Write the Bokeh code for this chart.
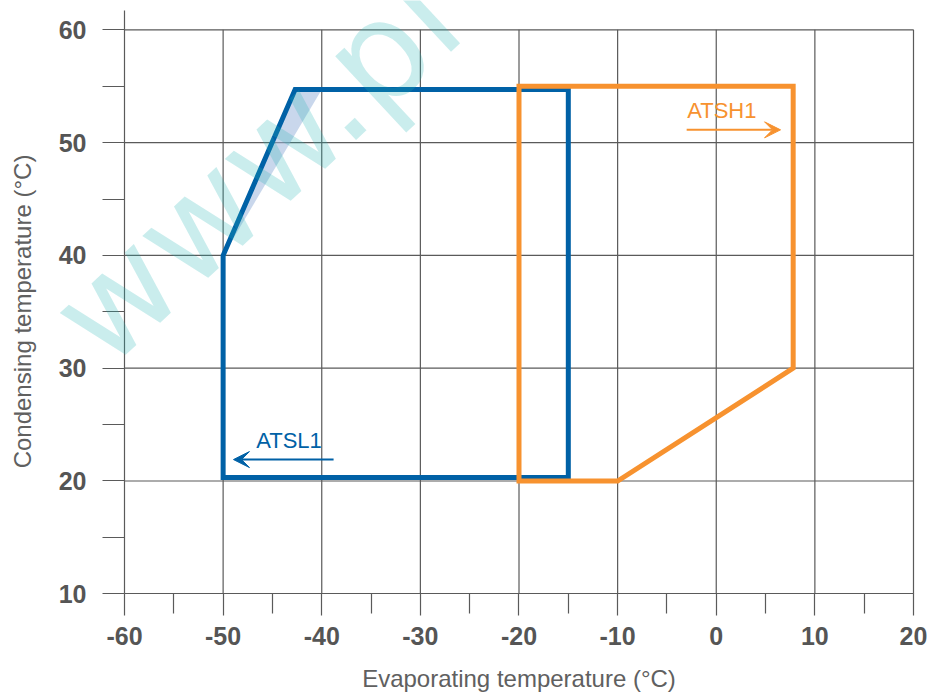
from bokeh.plotting import figure
from bokeh.models import Range1d, FixedTicker, Label, Arrow, VeeHead
from bokeh.embed import file_html
from bokeh.resources import INLINE

# ---- data ----
x_ticks = [-60, -50, -40, -30, -20, -10, 0, 10, 20]
x_minor = [-55, -45, -35, -25, -15, -5, 5, 15]
y_ticks = [10, 20, 30, 40, 50, 60]
y_minor = [15, 25, 35, 45, 55]
y_axis_top = 61.71

atsl1_evap = [-50, -50, -42.7, -15, -15]
atsl1_cond = [20.3, 40, 54.7, 54.7, 20.3]

shade_evap = [-50, -42.7, -40]
shade_cond = [40, 54.7, 54.7]

atsh1_evap = [-20, -20, 7.8, 7.8, -10]
atsh1_cond = [20, 55, 55, 30, 20]

atsl1_label = "ATSL1"
atsh1_label = "ATSH1"
watermark = "www.pl"

BLUE = "#0061a6"
ORANGE = "#f7922f"
GRID = "#5a5a5a"
FONT = "Liberation Sans"

# frame covers the whole canvas; axes are pinned at x=-60 / y=10
p = figure(x_range=Range1d(-72.573, 21.724), y_range=Range1d(1.072, 62.598),
           width=930, height=694,
           min_border_left=0, min_border_right=0, min_border_top=0, min_border_bottom=0,
           output_backend="svg", toolbar_location=None)
p.outline_line_color = None
p.xgrid.visible = False
p.ygrid.visible = False

n_x = len(x_ticks) - 1
n_y = len(y_ticks) - 1
# vertical grid lines (10..60)
p.segment(x0=x_ticks[1:], y0=[y_ticks[0]] * n_x, x1=x_ticks[1:], y1=[y_ticks[-1]] * n_x,
          line_color=GRID, line_width=1.2)
# horizontal grid lines (-60..20)
p.segment(x0=[x_ticks[0]] * n_y, y0=y_ticks[1:], x1=[x_ticks[-1]] * n_y, y1=y_ticks[1:],
          line_color=GRID, line_width=1.2)
# left axis line continues above 60
p.segment(x0=[x_ticks[0]], y0=[y_ticks[-1]], x1=[x_ticks[0]], y1=[y_axis_top],
          line_color=GRID, line_width=1.2)

for ax, tk, mn, mo in ((p.xaxis[0], x_ticks, x_minor, 20), (p.yaxis[0], y_ticks, y_minor, 22)):
    ax.ticker = FixedTicker(ticks=tk, minor_ticks=mn)
    ax.major_label_overrides = {t: str(t) for t in tk}
    ax.axis_line_color = GRID
    ax.axis_line_width = 1.2
    ax.major_tick_line_color = GRID
    ax.minor_tick_line_color = GRID
    ax.major_tick_line_width = 1.2
    ax.minor_tick_line_width = 1.2
    ax.major_tick_in = 0
    ax.minor_tick_in = 0
    ax.major_tick_out = 22
    ax.minor_tick_out = mo
    ax.major_label_text_font = FONT
    ax.major_label_text_font_style = "bold"
    ax.major_label_text_font_size = "25px"
    ax.major_label_text_color = "#555555"
    ax.axis_label_text_font = FONT
    ax.axis_label_text_font_style = "normal"
    ax.axis_label_text_font_size = "24px"
    ax.axis_label_text_color = "#606060"

p.xaxis.fixed_location = y_ticks[0]
p.yaxis.fixed_location = x_ticks[0]
p.xaxis.bounds = (x_ticks[0], x_ticks[-1])
p.yaxis.bounds = (y_ticks[0], y_ticks[-1])

p.xaxis.axis_label = "Evaporating temperature (°C)"
p.yaxis.axis_label = "Condensing temperature (°C)"
p.xaxis.major_label_standoff = 11
p.xaxis.axis_label_standoff = 17
p.yaxis.major_label_standoff = 16
p.yaxis.axis_label_standoff = 20

# shaded wedge
p.patch(shade_evap, shade_cond, fill_color="#9db6dd", fill_alpha=0.55, line_color=None)

# envelopes
p.patch(atsl1_evap, atsl1_cond, fill_color=None, line_color=BLUE, line_width=5, line_join="miter")
p.patch(atsh1_evap, atsh1_cond, fill_color=None, line_color=ORANGE, line_width=5, line_join="miter")

# annotations
p.add_layout(Arrow(end=VeeHead(size=16, fill_color=BLUE, line_color=BLUE, line_width=1),
                   x_start=-38.8, y_start=21.9, x_end=-48.95, y_end=21.9,
                   line_color=BLUE, line_width=2))
p.add_layout(Label(x=-46.65, y=23.55, text=atsl1_label, text_font=FONT, text_font_size="22px",
                   text_color=BLUE, text_baseline="alphabetic"))
p.add_layout(Arrow(end=VeeHead(size=16, fill_color=ORANGE, line_color=ORANGE, line_width=1),
                   x_start=-3.0, y_start=51.13, x_end=6.52, y_end=51.13,
                   line_color=ORANGE, line_width=2))
p.add_layout(Label(x=-2.95, y=52.86, text=atsh1_label, text_font=FONT, text_font_size="22px",
                   text_color=ORANGE, text_baseline="alphabetic"))

# watermark
p.add_layout(Label(x=-65.07, y=32.73, text=watermark, angle=0.75, text_font="DejaVu Sans",
                   text_font_size="138px", text_font_style="normal", text_color="#20b4b4",
                   text_alpha=0.24, text_baseline="alphabetic"))

open("out.html", "w").write(file_html(p, INLINE))
